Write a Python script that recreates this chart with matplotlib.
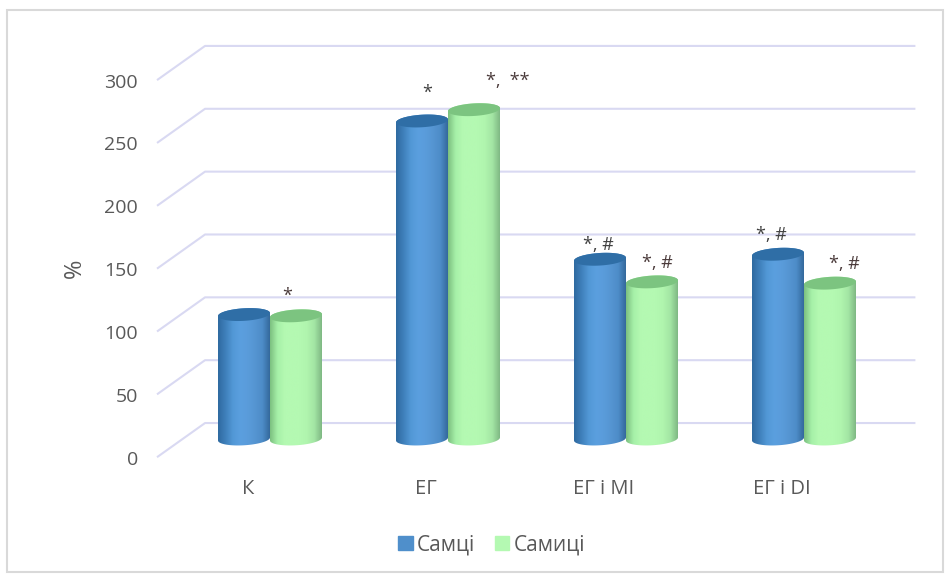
import numpy as np
import matplotlib
matplotlib.use('Agg')
import matplotlib.pyplot as plt
from matplotlib.colors import LinearSegmentedColormap
from matplotlib.patches import PathPatch, Patch, Rectangle
from matplotlib.path import Path

categorias = ['К', 'ЕГ', 'ЕГ і МІ', 'ЕГ і DІ']
samtsi = [99, 253, 143, 147]
samytsi = [98, 262, 125, 124]
nombres = ['Самці', 'Самиці']
ticks_y = [0, 50, 100, 150, 200, 250, 300]

marcas_samtsi = ['', '*', '*, #', '*, #']
marcas_samytsi = ['*', '*,  **', '*, #', '*, #']

W, H = 953, 577
PX_X = 178.0    # pixeles por categoria
PX_Y = 1.257    # pixeles por unidad de %
X0, Y0 = 270.0, 439.0   # pixel de la categoria 0 con valor 0
ANCHO = 52 / PX_X

GRIS = '#595959'
FUENTE = 'Open Sans'

# colores del cilindro: sombra izquierda, centro, sombra derecha y tapa
COLORES = {
    'azul': (['#2f6aa0', '#3f80bb', '#5298d6', '#5b9fdf', '#5a9cdb', '#5595d2', '#4d8cc8', '#34699c'], '#2f6ea6'),
    'verde': (['#7cc080', '#a6f0a8', '#b4f9b2', '#b4f9b2', '#b4f9b2', '#b0f5ae', '#a3e6a4', '#7fb884'], '#7cc480'),
}


def cilindro(ax, centro, valor, colores, tapa):
    # contorno: arco inferior y arco superior de las elipses, algo inclinadas
    hw = ANCHO / 2
    alto = 5.0
    incl = 1.2
    t = np.linspace(0, np.pi, 40)
    arriba_x = centro + hw * np.cos(t)
    arriba_y = valor + alto * np.sin(t) + incl * np.cos(t)
    abajo_x = centro - hw * np.cos(t)
    abajo_y = -alto * np.sin(t) - incl * np.cos(t)
    cuerpo = np.column_stack([np.r_[arriba_x, abajo_x], np.r_[arriba_y, abajo_y]])
    parche = PathPatch(Path(np.vstack([cuerpo, cuerpo[0]]), closed=True), fc='none', ec='none', zorder=3)
    ax.add_patch(parche)

    cmap = LinearSegmentedColormap.from_list('c', colores)
    grad = np.linspace(0, 1, 128).reshape(1, -1)
    im = ax.imshow(grad, cmap=cmap, aspect='auto', interpolation='bilinear', zorder=3,
                   extent=(centro - hw, centro + hw, -10, valor + 10))
    im.set_clip_path(parche)

    # tapa superior
    s = np.linspace(0, 2 * np.pi, 80)
    ax.fill(centro + hw * np.cos(s), valor + alto * np.sin(s) + incl * np.cos(s),
            color=tapa, lw=0, zorder=3)


fig = plt.figure(figsize=(W / 100, H / 100), dpi=100, facecolor='white')
ax = fig.add_axes([0, 0, 1, 1])
ax.axis('off')

# rejilla: pared del fondo y lateral en perspectiva
for v in ticks_y:
    ax.plot([-0.63, -0.365, 3.62], [v - 14, v + 12.7, v + 12.7], color='#d9d9f2', lw=1.5, zorder=1,
            solid_joinstyle='round')
    ax.text((138 - X0) / PX_X, v - 16.5, str(v), ha='right', va='center', color=GRIS,
            fontsize=14, family=FUENTE)

for i in range(len(categorias)):
    cilindro(ax, i - ANCHO / 2, samtsi[i], *COLORES['azul'])
    cilindro(ax, i + ANCHO / 2, samytsi[i], *COLORES['verde'])
    ax.text(i - 0.125, -39.5, categorias[i], ha='center', va='center', color=GRIS,
            fontsize=14.5, family=FUENTE)

# marcas de significacion sobre cada columna
desp_samtsi = [(0, 0), (-0.09, 22), (-0.13, 11), (-0.155, 15)]
desp_samytsi = [(-0.05, 16), (0.19, 23), (0.03, 15), (0.08, 15)]
for i in range(len(categorias)):
    dx, dy = desp_samtsi[i]
    ax.text(i - ANCHO / 2 + 0.12 + dx, samtsi[i] + dy, marcas_samtsi[i], ha='center', va='center',
            color='#404040', fontsize=13, family=FUENTE)
    dx, dy = desp_samytsi[i]
    ax.text(i + ANCHO / 2 + dx, samytsi[i] + dy, marcas_samytsi[i], ha='center', va='center',
            color='#4a3a3a', fontsize=13, family=FUENTE)

ax.text((75 - X0) / PX_X, (Y0 - 268) / PX_Y, '%', rotation=90, ha='center', va='center',
        color=GRIS, fontsize=17, family=FUENTE)

ax.set_xlim(-X0 / PX_X, (W - X0) / PX_X)
ax.set_ylim((Y0 - H) / PX_Y, Y0 / PX_Y)

handles = [Patch(color='#4f8fcb', label=nombres[0]), Patch(color='#b4f9b2', label=nombres[1])]
fig.legend(handles=handles, loc='center', bbox_to_anchor=(492 / W, 1 - 545 / H), ncol=2, frameon=False,
           handlelength=0.68, handleheight=0.68, handletextpad=0.22, columnspacing=0.95,
           labelcolor=GRIS, prop={'family': FUENTE, 'size': 15})

# marco exterior
fig.add_artist(Rectangle((7 / W, 1 - 572 / H), 936 / W, 562 / H, transform=fig.transFigure,
                         fc='none', ec='#d9d9d9', lw=1.5))

fig.savefig('out.png', dpi=100)
